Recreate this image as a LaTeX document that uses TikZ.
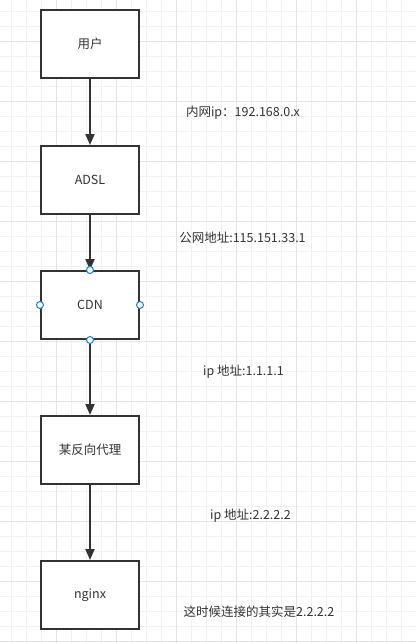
\documentclass[tikz,border=0pt]{standalone}
\usepackage{fontspec}
\setmainfont{Noto Sans CJK SC}
\usetikzlibrary{arrows.meta}
\definecolor{inkgray}{HTML}{333333}
\definecolor{gridminor}{HTML}{F2F2F2}
\definecolor{gridmajor}{HTML}{E4E4E4}
\definecolor{portblue}{HTML}{1E88F0}
\begin{document}
\begin{tikzpicture}[x=1pt,y=-1pt,
    box/.style={draw=inkgray,line width=2pt,fill=white,minimum width=98pt,minimum height=68pt,inner sep=0pt,text=inkgray,font=\fontsize{12.5}{15}\selectfont},
    note/.style={inner sep=0pt,text=inkgray,font=\fontsize{12.5}{15}\selectfont},
    flow/.style={draw=inkgray,line width=2pt,-{Triangle[length=11pt,width=9pt]}},
    port/.style={circle,draw=portblue,fill=white,line width=1.1pt,minimum size=7pt,inner sep=0pt}]
    \fill[white] (0,0) rectangle (416,643);
    \useasboundingbox (0,0) rectangle (416,643);
    % background grid
    \foreach \gx in {11.7,26.7,...,416} \draw[gridminor,line width=1pt] (\gx,0) -- (\gx,643);
    \foreach \gy in {11.7,26.7,...,643} \draw[gridminor,line width=1pt] (0,\gy) -- (416,\gy);
    \foreach \gx in {56.7,116.7,...,416} \draw[gridmajor,line width=1pt] (\gx,0) -- (\gx,643);
    \foreach \gy in {41.7,101.7,...,643} \draw[gridmajor,line width=1pt] (0,\gy) -- (416,\gy);

    \node[box] (user)  at (90,44)  {用户};
    \node[box] (adsl)  at (90,180) {ADSL};
    \node[box] (cdn)   at (90,305) {CDN};
    \node[box] (proxy) at (90,450) {某反向代理};
    \node[box] (nginx) at (90,595) {nginx};

    \draw[flow] (user) -- (adsl);
    \draw[flow] (adsl) -- (cdn);
    \draw[flow] (cdn) -- (proxy);
    \draw[flow] (proxy) -- (nginx);

    \node[port] (cdnN) at (cdn.north) {};
    \node[port] (cdnS) at (cdn.south) {};
    \node[port] (cdnW) at (cdn.west) {};
    \node[port] (cdnE) at (cdn.east) {};

    \node[note] (lanip)  at (243,113) {内网ip：192.168.0.x};
    \node[note] (wanip)  at (242.5,238) {公网地址:115.151.33.1};
    \node[note] (cdnip)  at (243.5,372) {ip 地址:1.1.1.1};
    \node[note] (prxip)  at (250.5,516) {ip 地址:2.2.2.2};
    \node[note] (remark) at (259,612) {这时候连接的其实是2.2.2.2};
\end{tikzpicture}
\end{document}
